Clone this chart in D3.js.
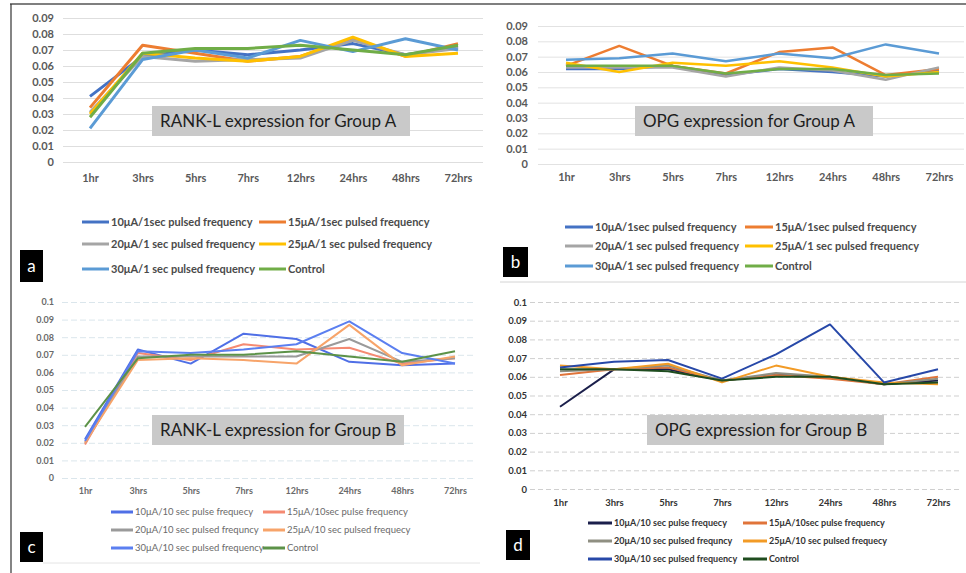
<!DOCTYPE html>
<html>
<head>
<meta charset="utf-8">
<script src="https://cdn.jsdelivr.net/npm/d3@7"></script>
<style>
  body { margin: 0; background: #fff; }
  text { font-family: Lato, "Open Sans", sans-serif; }
</style>
</head>
<body>
<script>
var hours = ['1hr', '3hrs', '5hrs', '7hrs', '12hrs', '24hrs', '48hrs', '72hrs']

var legendA = ['10μA/1sec pulsed frequency', '15μA/1sec pulsed frequency', '20μA/1 sec pulsed frequency',
  '25μA/1 sec pulsed frequency', '30μA/1 sec pulsed frequency', 'Control']
var legendB = ['10μA/10 sec pulse frequecy', '15μA/10sec pulse frequency', '20μA/10 sec pulsed frequncy',
  '25μA/10 sec pulsed frequecy', '30μA/10 sec pulsed frequency', 'Control']

var ticksA = [0, 0.01, 0.02, 0.03, 0.04, 0.05, 0.06, 0.07, 0.08, 0.09]
var ticksB = [0, 0.01, 0.02, 0.03, 0.04, 0.05, 0.06, 0.07, 0.08, 0.09, 0.1]

// RANK-L, group A
var rankA10 = [0.041, 0.066, 0.070, 0.067, 0.070, 0.074, 0.067, 0.072]
var rankA15 = [0.034, 0.073, 0.068, 0.063, 0.066, 0.077, 0.066, 0.074]
var rankA20 = [0.031, 0.066, 0.063, 0.064, 0.065, 0.076, 0.067, 0.071]
var rankA25 = [0.030, 0.068, 0.065, 0.063, 0.066, 0.078, 0.066, 0.068]
var rankA30 = [0.021, 0.064, 0.070, 0.065, 0.076, 0.069, 0.077, 0.070]
var rankACtrl = [0.028, 0.068, 0.071, 0.071, 0.073, 0.070, 0.067, 0.073]

// OPG, group A
var opgA10 = [0.062, 0.062, 0.064, 0.058, 0.062, 0.060, 0.057, 0.061]
var opgA15 = [0.064, 0.077, 0.064, 0.059, 0.073, 0.076, 0.058, 0.062]
var opgA20 = [0.063, 0.063, 0.063, 0.057, 0.063, 0.061, 0.055, 0.063]
var opgA25 = [0.066, 0.060, 0.066, 0.064, 0.067, 0.063, 0.057, 0.060]
var opgA30 = [0.068, 0.069, 0.072, 0.067, 0.072, 0.069, 0.078, 0.072]
var opgACtrl = [0.064, 0.064, 0.064, 0.059, 0.062, 0.062, 0.058, 0.059]

// RANK-L, group B
var rankB10 = [0.022, 0.073, 0.065, 0.082, 0.079, 0.066, 0.064, 0.065]
var rankB15 = [0.019, 0.071, 0.067, 0.076, 0.073, 0.074, 0.065, 0.068]
var rankB20 = [0.020, 0.069, 0.069, 0.069, 0.069, 0.079, 0.066, 0.068]
var rankB25 = [0.020, 0.067, 0.068, 0.067, 0.065, 0.087, 0.064, 0.069]
var rankB30 = [0.021, 0.072, 0.071, 0.073, 0.076, 0.089, 0.071, 0.065]
var rankBCtrl = [0.029, 0.068, 0.070, 0.070, 0.072, 0.069, 0.066, 0.072]

// OPG, group B
var opgB10 = [0.044, 0.064, 0.064, 0.058, 0.061, 0.060, 0.056, 0.058]
var opgB15 = [0.061, 0.064, 0.065, 0.058, 0.061, 0.059, 0.056, 0.060]
var opgB20 = [0.063, 0.064, 0.066, 0.058, 0.062, 0.060, 0.056, 0.059]
var opgB25 = [0.066, 0.064, 0.067, 0.057, 0.066, 0.060, 0.057, 0.056]
var opgB30 = [0.065, 0.068, 0.069, 0.059, 0.072, 0.088, 0.057, 0.064]
var opgBCtrl = [0.064, 0.064, 0.063, 0.058, 0.060, 0.060, 0.056, 0.057]

var svg = d3.select('body')
            .append('svg')
            .attr('width', 966)
            .attr('height', 573)

// FRAME LINES
svg.append('line').attr('x1', 10).attr('x2', 966).attr('y1', 4).attr('y2', 4)
  .attr('stroke', '#555').attr('stroke-width', 1.5)
svg.append('line').attr('x1', 11).attr('x2', 11).attr('y1', 4).attr('y2', 573)
  .attr('stroke', '#333').attr('stroke-width', 1.2)
svg.append('line').attr('x1', 500).attr('x2', 966).attr('y1', 282).attr('y2', 282)
  .attr('stroke', '#d4d4d4').attr('stroke-width', 1)
svg.append('line').attr('x1', 43).attr('x2', 480).attr('y1', 563).attr('y2', 563)
  .attr('stroke', '#e4e4e4').attr('stroke-width', 1)

var fmt = function (d) { return String(+d.toFixed(2)) }

function drawPanel (p) {
  var g = svg.append('g')

  var x = d3.scalePoint().domain(hours).range([p.x0, p.x1])
  var y = d3.scaleLinear().domain([0, p.max]).range([p.yBottom, p.yTop])

  // GRID + Y LABELS
  var yAxis = g.append('g')
    .attr('transform', 'translate(' + p.gridL + ',0)')
    .call(d3.axisLeft(y).tickValues(p.ticks).tickFormat(fmt)
      .tickSize(-(p.gridR - p.gridL)).tickPadding(p.gridL - p.labelR))
  yAxis.select('.domain').remove()
  yAxis.selectAll('line').attr('stroke', p.gridColor).attr('stroke-dasharray', p.gridDash)
  yAxis.selectAll('text').attr('fill', p.labelColor).style('font-size', p.labelSize + 'px')
    .style('font-weight', p.labelWeight).style('font-family', 'Lato, sans-serif')

  // X LABELS
  var xAxis = g.append('g')
    .attr('transform', 'translate(0,' + p.xLabelY + ')')
    .call(d3.axisBottom(x).tickSize(0).tickPadding(0))
  xAxis.select('.domain').remove()
  xAxis.selectAll('text').attr('fill', p.labelColor).attr('dy', '0.32em')
    .style('font-size', p.labelSize + 'px').style('font-weight', p.labelWeight)
    .style('font-family', 'Lato, sans-serif')

  // LINES
  var line = d3.line()
    .x(function (d, i) { return x(hours[i]) })
    .y(function (d) { return y(d) })

  g.selectAll('.series')
    .data(p.series)
    .enter()
      .append('path')
      .classed('series', true)
      .attr('d', function (d) { return line(d) })
      .attr('fill', 'none')
      .attr('stroke', function (d, i) { return p.colors[i] })
      .attr('stroke-width', p.lineWidth)
      .attr('stroke-linejoin', 'round')

  // TITLE BOX
  g.append('rect')
    .attr('x', p.box[0]).attr('y', p.box[1])
    .attr('width', p.box[2]).attr('height', p.box[3])
    .attr('fill', '#c9c9c9')
  g.append('text')
    .attr('x', p.box[0] + 8).attr('y', p.box[1] + p.box[3] / 2)
    .attr('dy', '0.36em')
    .attr('fill', '#1e1e1e')
    .style('font-size', '17px')
    .text(p.title)

  // LEGEND
  var items = p.legend.map(function (name, i) {
    return { name: name, color: p.colors[i], col: i % 2, row: Math.floor(i / 2) }
  })
  var leg = g.selectAll('.leg')
    .data(items)
    .enter()
      .append('g')
      .classed('leg', true)
      .attr('transform', function (d) {
        return 'translate(' + p.legCols[d.col] + ',' + p.legRows[d.row] + ')'
      })
  leg.append('line')
    .attr('x1', 0).attr('x2', p.legLine)
    .attr('stroke', function (d) { return d.color })
    .attr('stroke-width', 3)
  leg.append('text')
    .attr('x', p.legLine + 2)
    .attr('dy', '0.34em')
    .attr('fill', p.legColor)
    .style('font-size', p.legSize + 'px')
    .style('font-weight', p.legWeight)
    .text(function (d) { return d.name })

  // PANEL LETTER
  g.append('rect')
    .attr('x', p.tag[0]).attr('y', p.tag[1])
    .attr('width', p.tag[2]).attr('height', p.tag[3])
    .attr('fill', '#000')
  g.append('text')
    .attr('x', p.tag[0] + p.tag[2] / 2).attr('y', p.tag[1] + p.tag[3] / 2)
    .attr('dy', '0.36em')
    .attr('text-anchor', 'middle')
    .attr('fill', '#fff')
    .style('font-size', '17px')
    .text(p.letter)
}

var colorsA = ['#4472c4', '#ed7d31', '#a5a5a5', '#ffc000', '#5b9bd5', '#70ad47']

drawPanel({
  letter: 'a', title: 'RANK-L expression for Group A',
  series: [rankA10, rankA15, rankA20, rankA25, rankA30, rankACtrl],
  colors: colorsA, legend: legendA, ticks: ticksA, max: 0.09,
  x0: 90, x1: 458, yTop: 18, yBottom: 162, gridL: 63, gridR: 483, labelR: 54,
  xLabelY: 178, gridColor: '#dedede', gridDash: null,
  labelColor: '#595959', labelSize: 11, labelWeight: 'bold', lineWidth: 3,
  box: [152, 106, 258, 30],
  legRows: [222, 244, 269], legCols: [82, 259], legLine: 27,
  legColor: '#4a4a4a', legSize: 11, legWeight: 'bold',
  tag: [20, 250, 23, 32]
})

drawPanel({
  letter: 'b', title: 'OPG expression for Group A',
  series: [opgA10, opgA15, opgA20, opgA25, opgA30, opgACtrl],
  colors: colorsA, legend: legendA, ticks: ticksA, max: 0.09,
  x0: 566, x1: 939, yTop: 26, yBottom: 164, gridL: 538, gridR: 964, labelR: 528,
  xLabelY: 177, gridColor: '#e2e2e2', gridDash: null,
  labelColor: '#595959', labelSize: 11, labelWeight: 'bold', lineWidth: 2.5,
  box: [635, 106, 238, 30],
  legRows: [227, 246, 266], legCols: [565, 745], legLine: 28,
  legColor: '#4a4a4a', legSize: 11, legWeight: 'bold',
  tag: [503, 247, 25, 30]
})

drawPanel({
  letter: 'c', title: 'RANK-L expression for Group B',
  series: [rankB10, rankB15, rankB20, rankB25, rankB30, rankBCtrl],
  colors: ['#4f6fe6', '#f58a72', '#9a9a9a', '#f7a46a', '#5b7ff0', '#5c9248'],
  legend: legendB, ticks: ticksB, max: 0.1,
  x0: 85, x1: 455, yTop: 302, yBottom: 478, gridL: 62, gridR: 475, labelR: 54,
  xLabelY: 491, gridColor: '#dbe6ec', gridDash: '6,3',
  labelColor: '#6a6a6a', labelSize: 9, labelWeight: 'bold', lineWidth: 2,
  box: [152, 415, 252, 30],
  legRows: [512, 530, 548], legCols: [111, 263], legLine: 22,
  legColor: '#6a6a6a', legSize: 9.5, legWeight: 'normal',
  tag: [20, 532, 23, 30]
})

drawPanel({
  letter: 'd', title: 'OPG expression for Group B',
  series: [opgB10, opgB15, opgB20, opgB25, opgB30, opgBCtrl],
  colors: ['#1b1f4b', '#e0743a', '#8f8f82', '#f29b26', '#2748a8', '#1f4d1f'],
  legend: legendB, ticks: ticksB, max: 0.1,
  x0: 560, x1: 938, yTop: 302, yBottom: 489, gridL: 530, gridR: 962, labelR: 527,
  xLabelY: 503, gridColor: '#cfcfcf', gridDash: '5,3',
  labelColor: '#333', labelSize: 9.5, labelWeight: 'bold', lineWidth: 2,
  box: [647, 415, 237, 30],
  legRows: [523, 541, 559], legCols: [588, 743], legLine: 24,
  legColor: '#333', legSize: 9, legWeight: 'bold',
  tag: [506, 530, 24, 30]
})
</script>
</body>
</html>
